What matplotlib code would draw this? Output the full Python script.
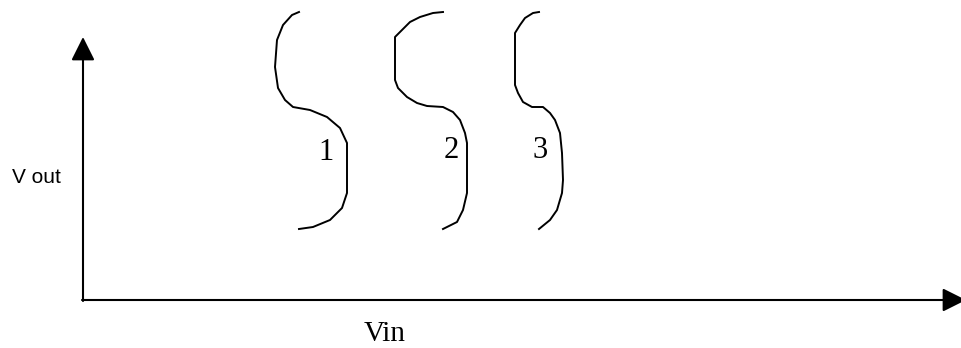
import matplotlib.pyplot as plt

# curve points (pixel coords, y grows downward)
curve1_x = [299, 292, 283, 277, 275, 278, 285, 293, 310, 327, 340, 347, 347, 347, 342, 330, 313, 299]
curve1_y = [12, 15, 25, 40, 67, 88, 100, 107, 110, 117, 128, 143, 173, 193, 208, 220, 227, 229]

curve2_x = [443, 433, 420, 410, 402, 395, 395, 398, 407, 417, 427, 443, 453, 460, 465, 467, 467, 463, 457, 443]
curve2_y = [12, 13, 17, 22, 30, 37, 80, 88, 97, 103, 106, 107, 112, 120, 133, 143, 193, 210, 222, 229]

curve3_x = [539, 533, 525, 520, 515, 515, 518, 523, 532, 543, 550, 555, 560, 562, 563, 562, 557, 550, 539]
curve3_y = [12, 13, 18, 25, 33, 85, 93, 102, 107, 107, 113, 120, 133, 153, 180, 193, 210, 220, 229]

curve_labels = ['1', '2', '3']
label_pos = [(326, 160), (451, 158), (540, 158)]  # baseline positions

fig = plt.figure(figsize=(9.62, 3.48), dpi=100)
ax = fig.add_axes([0, 0, 1, 1])
ax.set_xlim(0, 962)
ax.set_ylim(348, 0)
ax.axis('off')

# axes with arrow heads
arrow = dict(arrowstyle='-|>,head_length=0.4,head_width=0.2', color='black',
             lw=1.5, mutation_scale=36, shrinkA=0, shrinkB=0)
ax.annotate('', xy=(83, 37), xytext=(83, 301), arrowprops=arrow, annotation_clip=False)
ax.annotate('', xy=(966, 300), xytext=(82, 300), arrowprops=arrow, annotation_clip=False)

for cx, cy in [(curve1_x, curve1_y), (curve2_x, curve2_y), (curve3_x, curve3_y)]:
    ax.plot(cx, cy, color='black', lw=1.4)

for lab, (lx, ly) in zip(curve_labels, label_pos):
    ax.text(lx, ly, lab, fontsize=22, family='Liberation Serif', ha='center', va='baseline')

ax.text(12, 183, 'V out', fontsize=15, family='Liberation Sans', ha='left', va='baseline')
ax.text(385, 341, 'Vin', fontsize=21, family='Liberation Serif', ha='center', va='baseline')

plt.savefig('out.png', dpi=100)
